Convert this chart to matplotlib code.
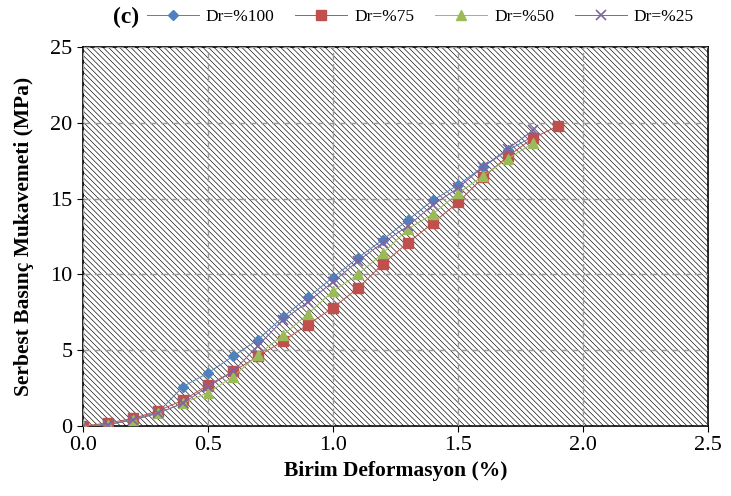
import matplotlib
matplotlib.use("Agg")
import matplotlib.pyplot as plt
from matplotlib.patches import Rectangle

plt.rcParams['font.family'] = ['Liberation Serif', 'DejaVu Serif']
plt.rcParams['hatch.linewidth'] = 0.45

# strain (%) and unconfined compressive strength (MPa) for each relative density
strain = [0.0, 0.1, 0.2, 0.3, 0.4, 0.5, 0.6, 0.7, 0.8, 0.9, 1.0,
          1.1, 1.2, 1.3, 1.4, 1.5, 1.6, 1.7, 1.8]
strain_75 = strain + [1.9]

dr100 = [0, 0.1, 0.45, 0.9, 2.6, 3.5, 4.6, 5.7, 7.2, 8.5, 9.8,
         11.1, 12.3, 13.6, 14.9, 15.9, 17.1, 18.2, 19.1]
dr75 = [0, 0.2, 0.5, 1.0, 1.7, 2.7, 3.6, 4.6, 5.6, 6.7, 7.8,
        9.1, 10.7, 12.1, 13.4, 14.75, 16.4, 17.8, 19.0, 19.8]
dr50 = [0, 0.1, 0.4, 0.85, 1.5, 2.2, 3.25, 4.7, 6.0, 7.4, 8.9,
        10.0, 11.4, 13.0, 14.0, 15.35, 16.5, 17.65, 18.65]
dr25 = [0, 0.1, 0.4, 0.85, 1.5, 2.6, 3.6, 5.3, 7.0, 8.2, 9.5,
        10.9, 12.1, 13.2, 14.6, 15.7, 17.1, 18.3, 19.5]

labels = ['Dr=%100', 'Dr=%75', 'Dr=%50', 'Dr=%25']
colors = ['#4F81BD', '#C0504D', '#9BBB59', '#8064A2']

fig = plt.figure(figsize=(7.31, 4.96), dpi=100)
ax = fig.add_axes([0.1135, 0.141, 0.855, 0.764])

# hatched plot area
ax.add_patch(Rectangle((0, 0), 1, 1, transform=ax.transAxes, facecolor='white',
                       edgecolor='black', hatch='\\' * 6, linewidth=0, zorder=0))

ax.plot(strain, dr100, color=colors[0], marker='D', markersize=5.5, lw=0.7, label=labels[0], zorder=3)
ax.plot(strain_75, dr75, color=colors[1], marker='s', markersize=6.5, lw=0.7, label=labels[1], zorder=3)
ax.plot(strain, dr50, color=colors[2], marker='^', markersize=7, lw=0.7, label=labels[2], zorder=3)
ax.plot(strain, dr25, color=colors[3], marker='x', markersize=6.5, mew=1.2, lw=0.7, label=labels[3], zorder=3)

ax.set_xlim(0, 2.5)
ax.set_ylim(0, 25)
ax.set_xticks([0, 0.5, 1.0, 1.5, 2.0, 2.5])
ax.set_xticklabels(['0.0', '0.5', '1.0', '1.5', '2.0', '2.5'])
ax.set_yticks([0, 5, 10, 15, 20, 25])
ax.tick_params(labelsize=16, length=4, direction='out', colors='black')
ax.set_axisbelow(False)
ax.grid(True, color='#9a9a9a', linestyle=(0, (5, 3)), lw=1, zorder=1)
for sp in ax.spines.values():
    sp.set_color('black')
    sp.set_linewidth(1.2)

ax.set_xlabel('Birim Deformasyon (%)', fontsize=15.5, fontweight='bold', labelpad=4)
ax.set_ylabel('Serbest Basınç Mukavemeti (MPa)', fontsize=15.5, fontweight='bold', labelpad=12)

fig.text(0.155, 0.965, '(c)', fontsize=17, fontweight='bold', ha='left', va='center')
fig.legend(loc='center', bbox_to_anchor=(0.575, 0.965), ncol=4, frameon=False,
           fontsize=12.5, handlelength=3, columnspacing=1.2, handletextpad=0.4)

fig.savefig('out.png', dpi=100)
